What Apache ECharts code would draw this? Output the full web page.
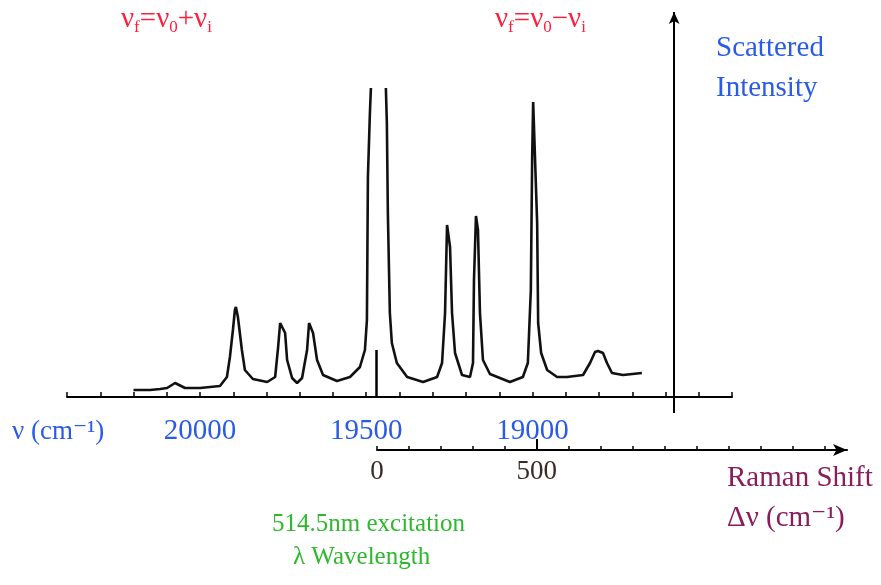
<!DOCTYPE html>
<html>
<head>
<meta charset="utf-8">
<script src="https://cdn.jsdelivr.net/npm/echarts@6/dist/echarts.min.js"></script>
<style>
  html, body { margin: 0; padding: 0; background: #fff; }
  #main { width: 881px; height: 585px; }
</style>
</head>
<body>
<div id="main"></div>
<script>
var dom = document.getElementById('main');
var myChart = echarts.init(dom, null, { renderer: 'canvas' });

// wavenumber (cm-1) and scattered intensity (arb.)
const wavenumber = [20200, 20150, 20120, 20099, 20075, 20045, 20000, 19940, 19919, 19910,
  19901, 19895, 19892, 19886, 19874, 19865, 19841, 19798, 19774, 19765,
  19759, 19753, 19744, 19738, 19723, 19708, 19693, 19678, 19672, 19669,
  19660, 19648, 19630, 19588, 19549, 19519, 19504, 19498, 19495, 19489,
  19486, 19463, 19441, 19438, 19435, 19429, 19423, 19408, 19377, 19329,
  19287, 19272, 19263, 19257, 19248, 19242, 19233, 19212, 19188, 19179,
  19176, 19170, 19164, 19158, 19149, 19128, 19068, 19029, 19014, 19005,
  19001, 18998, 18992, 18986, 18983, 18974, 18956, 18926, 18896, 18848,
  18827, 18812, 18803, 18788, 18776, 18761, 18728, 18671];
const intensity = [7, 7, 8, 9, 14, 9, 9, 11, 20, 40,
  67, 87, 90, 80, 47, 27, 18, 15, 20, 50,
  74, 75, 64, 37, 19, 14, 19, 47, 74, 76,
  64, 37, 22, 16, 20, 30, 47, 77, 220, 284,
  309, null, 309, 274, 184, 84, 54, 34, 20, 15,
  20, 34, 84, 172, 150, 84, 44, 22, 20, 34,
  117, 181, 167, 84, 37, 23, 15, 20, 34, 107,
  240, 295, 294, 174, 74, 44, 27, 20, 20, 22,
  34, 45, 46, 44, 34, 24, 22, 24];

const nuLabels = [20000, 19500, 19000];
const shiftLabels = [0, 500];
const excitationNu = 19470;      // laser line marker on the wavenumber axis
const excitationMark = 47;
const intensityAxisNu = 18574;   // where the intensity axis stands

const spectrum = wavenumber.map(function (v, i) { return [v, intensity[i]]; });

const serif = '"Liberation Serif", "DejaVu Serif", serif';
const red = '#ff1e3c';
const blue = '#2a5ae8';
const green = '#2db82d';
const purple = '#8a1c5c';

function formula(x, y, op) {
  return {
    type: 'text', x: x, y: y,
    style: {
      text: '{m|ν}{s|f}{m|=ν}{s|0}{m|' + op + 'ν}{s|i}',
      fontFamily: serif,
      rich: {
        m: { fontSize: 29, fill: red, fontFamily: serif, lineHeight: 34, verticalAlign: 'middle' },
        s: { fontSize: 17, fill: red, fontFamily: serif, lineHeight: 17, verticalAlign: 'bottom' }
      },
      verticalAlign: 'middle'
    }
  };
}

function label(text, x, y, color, size) {
  return {
    type: 'text', x: x, y: y,
    style: { text: text, fill: color, fontSize: size, fontFamily: serif, verticalAlign: 'middle' }
  };
}

var option = {
  backgroundColor: '#ffffff',
  animation: false,
  grid: [
    { left: 67, right: 149, top: 12, bottom: 172 },
    { left: 377, right: 34, top: 430, bottom: 135 }
  ],
  xAxis: [
    {
      type: 'value', gridIndex: 0, inverse: true,
      min: 18400, max: 20400, interval: 100,
      splitLine: { show: false },
      axisLine: { onZero: true, lineStyle: { color: '#000', width: 2 } },
      axisTick: { inside: true, length: 5, lineStyle: { color: '#000', width: 1.5 } },
      axisLabel: {
        margin: 4, fontSize: 29, fontFamily: serif, color: blue,
        formatter: function (v) { return nuLabels.indexOf(v) >= 0 ? String(v) : ''; }
      }
    },
    {
      type: 'value', gridIndex: 1,
      min: 0, max: 1470, interval: 100,
      splitLine: { show: false },
      axisLine: {
        onZero: false, symbol: ['none', 'arrow'], symbolSize: [9, 14],
        lineStyle: { color: '#000', width: 2 }
      },
      axisTick: { inside: true, length: 4, lineStyle: { color: '#000', width: 1.5 } },
      axisLabel: {
        margin: 8, fontSize: 27, fontFamily: serif, color: '#3a2a24', showMaxLabel: false,
        formatter: function (v) { return shiftLabels.indexOf(v) >= 0 ? String(v) : ''; }
      }
    }
  ],
  yAxis: [
    { type: 'value', gridIndex: 0, min: -16, max: 385, show: false },
    { type: 'value', gridIndex: 1, min: 0, max: 1, show: false }
  ],
  series: [
    {
      type: 'line', xAxisIndex: 0, yAxisIndex: 0,
      data: spectrum, showSymbol: false, connectNulls: false, silent: true,
      lineStyle: { color: '#111', width: 2.6 },
      markLine: {
        silent: true, symbol: ['none', 'none'], label: { show: false },
        lineStyle: { color: '#000', width: 2.5, type: 'solid' },
        data: [[{ coord: [excitationNu, 0] }, { coord: [excitationNu, excitationMark] }]]
      }
    },
    {
      type: 'line', xAxisIndex: 0, yAxisIndex: 0, data: [], silent: true,
      markLine: {
        silent: true, symbol: ['none', 'arrow'], symbolSize: [8, 12], label: { show: false },
        lineStyle: { color: '#000', width: 2, type: 'solid' },
        data: [{ xAxis: intensityAxisNu }]
      }
    },
    {
      type: 'line', xAxisIndex: 1, yAxisIndex: 1, data: [], silent: true,
      markLine: {
        silent: true, symbol: ['none', 'none'], label: { show: false },
        lineStyle: { color: '#000', width: 2, type: 'solid' },
        data: [[{ coord: [500, 0] }, { coord: [500, 0.55] }]]
      }
    }
  ],
  graphic: [
    formula(121, 19, '+'),
    formula(495, 19, '−'),
    label('Scattered', 716, 48, blue, 29),
    label('Intensity', 716, 88, blue, 29),
    label('ν (cm⁻¹)', 12, 432, blue, 27),
    label('Raman Shift', 727, 478, purple, 29),
    label('Δν (cm⁻¹)', 727, 518, purple, 29),
    label('514.5nm excitation', 272, 524, green, 25),
    label('λ Wavelength', 293, 557, green, 25)
  ]
};

if (option && typeof option === 'object') {
  myChart.setOption(option);
}
window.addEventListener('resize', myChart.resize);
</script>
</body>
</html>
